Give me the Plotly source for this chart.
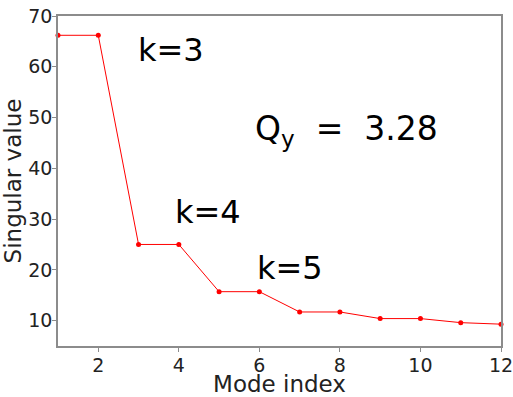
import plotly.graph_objects as go

mode_index = [1, 2, 3, 4, 5, 6, 7, 8, 9, 10, 11, 12]
singular_values = [66.2, 66.2, 25.0, 25.0, 15.7, 15.7, 11.7, 11.7, 10.4, 10.4, 9.6, 9.3]

labels = ["k=3", "k=4", "k=5"]
label_x = [2.93, 3.85, 5.9]
label_y = [63.3, 31.4, 20.4]

fig = go.Figure()
fig.add_trace(go.Scatter(
    x=mode_index, y=singular_values, mode="lines+markers",
    line=dict(color="#ff0000", width=1),
    marker=dict(color="#ff0000", size=5),
    showlegend=False, cliponaxis=False,
))

font = "DejaVu Sans, sans-serif"
for t, x, y in zip(labels, label_x, label_y):
    fig.add_annotation(x=x, y=y, text=t, showarrow=False, xanchor="left",
                       yanchor="middle", font=dict(family=font, size=32, color="black"))
fig.add_annotation(x=5.85, y=47.4, text="Q<sub>y</sub>&nbsp;&nbsp;=&nbsp;&nbsp;3.28", showarrow=False,
                   xanchor="left", yanchor="middle",
                   font=dict(family=font, size=33, color="black"))

axis_common = dict(showgrid=False, zeroline=False, showline=True, linecolor="#8c8c8c",
                   linewidth=1.5, mirror=True, ticks="outside", ticklen=4,
                   tickcolor="#8c8c8c", automargin=False, ticklabeloverflow="allow",
                   tickfont=dict(family=font, size=19, color="#222222"))
fig.update_xaxes(range=[1, 12], tickvals=[2, 4, 6, 8, 10, 12], ticklabelstandoff=-3,
                 title=dict(text="Mode index", font=dict(family=font, size=23, color="#222222"), standoff=0),
                 **axis_common)
fig.update_yaxes(range=[5, 70], tickvals=[10, 20, 30, 40, 50, 60, 70], ticklabelstandoff=-4,
                 title=dict(text="Singular value", font=dict(family=font, size=23, color="#222222"), standoff=0),
                 **axis_common)
fig.update_layout(width=513, height=397, margin=dict(l=58, r=12, t=16, b=51),
                  plot_bgcolor="white", paper_bgcolor="white")
fig.write_html("out.html", config={"displayModeBar": False},
               post_script="document.body.style.margin='0';")
